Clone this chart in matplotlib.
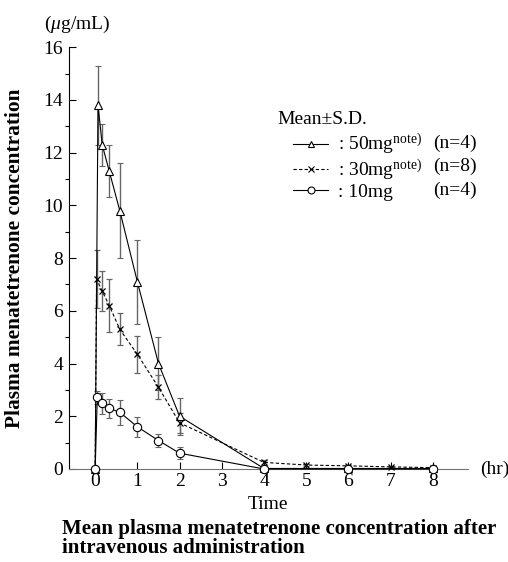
import matplotlib.pyplot as plt
from matplotlib.lines import Line2D

plt.rcParams['font.family'] = ['Liberation Serif', 'DejaVu Serif']
plt.rcParams['mathtext.fontset'] = 'custom'
plt.rcParams['mathtext.rm'] = 'Liberation Serif'
plt.rcParams['mathtext.it'] = 'Liberation Serif:italic'

# 50 mg
t50 = [0, 0.067, 0.167, 0.333, 0.583, 1, 1.5, 2, 4, 6, 8]
c50 = [0, 13.8, 12.3, 11.3, 9.8, 7.1, 4.0, 2.0, 0.02, 0.02, 0.02]
sd50 = [0, 1.5, 0.8, 1.0, 1.8, 1.6, 1.0, 0.7, 0, 0, 0]
# 30 mg
t30 = [0, 0.033, 0.167, 0.333, 0.583, 1, 1.5, 2, 4, 5, 6, 7, 8]
c30 = [0, 7.2, 6.75, 6.2, 5.3, 4.35, 3.1, 1.75, 0.25, 0.15, 0.12, 0.08, 0.05]
sd30 = [0, 1.1, 0.75, 1.0, 0.6, 0.7, 0.45, 0.38, 0.08, 0.04, 0.04, 0.02, 0.02]
# 10 mg
t10 = [0, 0.05, 0.167, 0.333, 0.583, 1, 1.5, 2, 4, 6, 8]
c10 = [0, 2.72, 2.5, 2.3, 2.15, 1.6, 1.08, 0.6, 0, 0, 0]
sd10 = [0, 0.25, 0.4, 0.37, 0.48, 0.37, 0.24, 0.22, 0, 0, 0]

labels = [r': 50mg$^{\mathrm{note)}}$', r': 30mg$^{\mathrm{note)}}$', ': 10mg']
ns = ['(n=4)', '(n=8)', '(n=4)']

fig = plt.figure(figsize=(5.08, 5.62), dpi=100)
ax = fig.add_axes([0.135, 0.1655, 0.786, 0.7505])

ekw = dict(ecolor='0.4', elinewidth=1.0, capsize=2.5, capthick=0.8)
ax.errorbar(t50, c50, yerr=sd50, color='black', lw=0.8, marker='^', ms=6,
            mfc='white', mec='black', mew=0.8, clip_on=False, zorder=3, **ekw)
ax.errorbar(t30, c30, yerr=sd30, color='black', lw=0.8, ls=(0, (3, 2)), marker='x', ms=5,
            mec='black', mew=0.9, clip_on=False, zorder=3, **ekw)
ax.errorbar(t10, c10, yerr=sd10, color='black', lw=0.8, marker='o', ms=6,
            mfc='white', mec='black', mew=0.8, clip_on=False, zorder=3, **ekw)

ax.set_xlim(-0.63, 8.83)
ax.set_ylim(0, 16)
ax.set_xticks(range(0, 9))
ax.set_yticks(range(0, 17, 2))
ax.set_yticks(range(1, 16, 2), minor=True)
ax.tick_params(axis='both', direction='in', labelsize=14, width=0.8)
ax.tick_params(axis='y', which='major', length=5, pad=4)
ax.tick_params(axis='y', which='minor', length=3, width=0.8)
ax.tick_params(axis='x', length=5, pad=3)
ax.spines['top'].set_visible(False)
ax.spines['right'].set_visible(False)
ax.spines['left'].set_linewidth(0.8)
ax.spines['bottom'].set_linestyle((0, (1, 1)))
ax.spines['bottom'].set_color('0.45')
ax.spines['bottom'].set_linewidth(0.8)

fig.text(0.152, 0.957, r'($\mathit{\mu}$g/mL)', fontsize=14, ha='center', va='center')
fig.text(480 / 508, 1 - 469 / 562, '(hr)', fontsize=14, ha='left', va='center')
fig.text(0.528, 0.1015, 'Time', fontsize=14, ha='center', va='center')
fig.text(0.03, 0.541, 'Plasma menatetrenone concentration', fontsize=15.4,
         fontweight='bold', rotation=90, ha='center', va='center')
fig.text(0.122, 1 - 534 / 562, 'Mean plasma menatetrenone concentration after', fontsize=15,
         fontweight='bold', ha='left', va='baseline')
fig.text(0.122, 1 - 553 / 562, 'intravenous administration', fontsize=15,
         fontweight='bold', ha='left', va='baseline')

# legend
handles = [
    Line2D([], [], color='black', lw=0.8, marker='^', ms=5, mfc='white', mec='black', mew=0.8),
    Line2D([], [], color='black', lw=0.8, ls=(0, (3, 2)), marker='x', ms=4.5, mec='black', mew=0.8),
    Line2D([], [], color='black', lw=0.8, marker='o', ms=5, mfc='white', mec='black', mew=0.8),
]
fig.text(277 / 508, 1 - 120 / 562, 'Mean±S.D.', fontsize=14, ha='left', va='center')
leg = fig.legend(handles, labels, loc='upper left', bbox_to_anchor=(293 / 508, 1 - 132 / 562),
                 frameon=False, fontsize=14, handlelength=1.8, handletextpad=0.5,
                 labelspacing=0.02, borderpad=0, borderaxespad=0)
for i, n in enumerate(ns):
    fig.text(433 / 508, 1 - (143 + 23.5 * i) / 562, n, fontsize=14, ha='left', va='center')

fig.savefig('out.png', dpi=100)
